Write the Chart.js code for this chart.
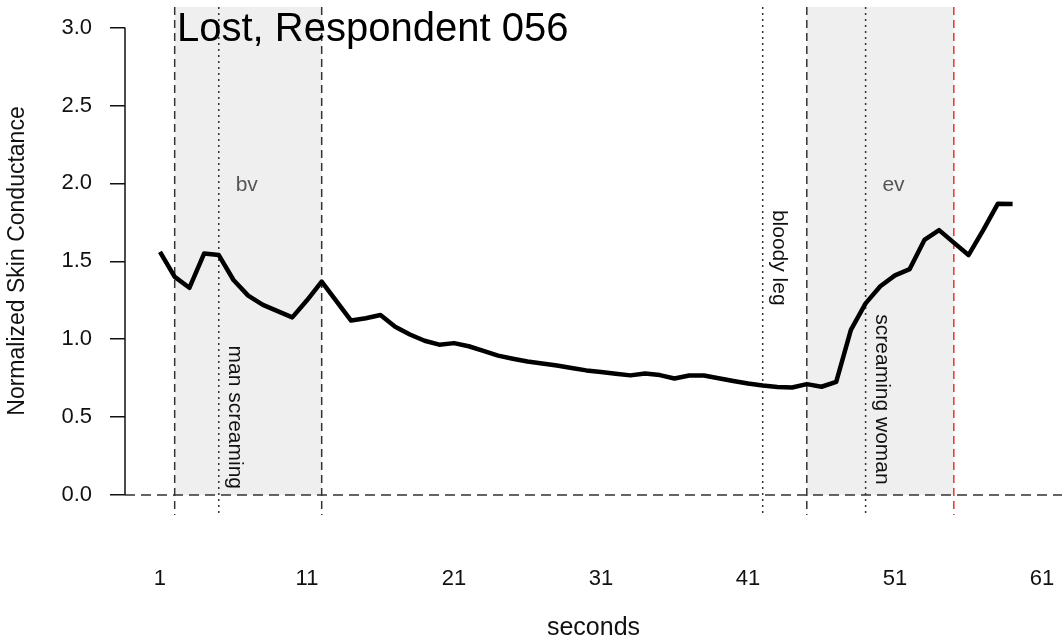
<!DOCTYPE html>
<html>
<head>
<meta charset="utf-8">
<script src="https://cdn.jsdelivr.net/npm/chart.js@4.4.1/dist/chart.umd.min.js"></script>
<style>
  html, body { margin: 0; padding: 0; background: #fff; }
  #scChart { display: block; }
</style>
</head>
<body>
<canvas id="scChart" width="1062" height="642"></canvas>
<script>
// skin conductance, one value per second
const seconds = [1, 2, 3, 4, 5, 6, 7, 8, 9, 10, 11, 12, 13, 14, 15, 16, 17, 18, 19, 20,
  21, 22, 23, 24, 25, 26, 27, 28, 29, 30, 31, 32, 33, 34, 35, 36, 37, 38, 39, 40,
  41, 42, 43, 44, 45, 46, 47, 48, 49, 50, 51, 52, 53, 54, 55, 56, 57, 58, 59];
const conductance = [1.56, 1.40, 1.33, 1.55, 1.54, 1.38, 1.28, 1.22, 1.18, 1.14,
  1.25, 1.37, 1.245, 1.12, 1.135, 1.155, 1.08, 1.03, 0.99, 0.965,
  0.975, 0.955, 0.925, 0.895, 0.875, 0.857, 0.844, 0.831, 0.815, 0.80,
  0.79, 0.778, 0.768, 0.78, 0.77, 0.748, 0.767, 0.767, 0.75, 0.732,
  0.716, 0.703, 0.693, 0.69, 0.712, 0.695, 0.727, 1.06, 1.23, 1.34,
  1.41, 1.45, 1.637, 1.70, 1.62, 1.54, 1.70, 1.87, 1.868];

const xTicks = [1, 11, 21, 31, 41, 51, 61];
const yTicks = [0, 0.5, 1, 1.5, 2, 2.5, 3];

// baseline / emotion windows (seconds)
const bvWindow = [2, 12];
const evWindow = [45, 55];
const windowNames = ['bv', 'ev'];

// scene events (seconds)
const eventTimes = [5, 42, 49];
const eventNames = ['man screaming', 'bloody leg', 'screaming woman'];

const titleText = 'Lost, Respondent 056';

document.addEventListener('DOMContentLoaded', function () {
  const ctx = document.getElementById('scChart').getContext('2d');
  Chart.defaults.font.family = '"Liberation Sans", Arial, sans-serif';
  Chart.defaults.font.size = 22;
  Chart.defaults.color = '#111';

  function vline(c, px, top, bottom, color, dash) {
    c.beginPath();
    c.strokeStyle = color;
    c.lineWidth = 1.5;
    c.setLineDash(dash);
    c.moveTo(px, top);
    c.lineTo(px, bottom);
    c.stroke();
  }

  // no extra room for overhanging tick labels
  function noPadding(scale) {
    scale.paddingTop = 0;
    scale.paddingBottom = 0;
    scale.paddingLeft = 0;
    scale.paddingRight = 0;
  }

  const decorations = {
    id: 'decorations',
    beforeDatasetsDraw(chart) {
      const c = chart.ctx;
      const area = chart.chartArea;
      const x = chart.scales.x;
      const y = chart.scales.y;
      const zeroY = y.getPixelForValue(0);
      c.save();

      // shaded windows
      c.fillStyle = '#efefef';
      [bvWindow, evWindow].forEach(w => {
        const x0 = x.getPixelForValue(w[0]);
        const x1 = x.getPixelForValue(w[1]);
        c.fillRect(x0, area.top, x1 - x0, zeroY - area.top);
      });

      // zero line
      c.beginPath();
      c.strokeStyle = '#333';
      c.lineWidth = 1.5;
      c.setLineDash([10, 6]);
      c.moveTo(area.left, zeroY);
      c.lineTo(area.right, zeroY);
      c.stroke();

      // window edges
      vline(c, x.getPixelForValue(bvWindow[0]), area.top, area.bottom, '#333', [8, 5]);
      vline(c, x.getPixelForValue(bvWindow[1]), area.top, area.bottom, '#333', [8, 5]);
      vline(c, x.getPixelForValue(evWindow[0]), area.top, area.bottom, '#333', [8, 5]);
      vline(c, x.getPixelForValue(evWindow[1]), area.top, area.bottom, '#e8352b', [8, 5]);

      // event lines
      eventTimes.forEach(t => {
        vline(c, x.getPixelForValue(t), area.top, area.bottom, '#333', [2, 4]);
      });
      c.setLineDash([]);

      // y axis line from 0 to 3
      c.beginPath();
      c.strokeStyle = '#111';
      c.lineWidth = 1.5;
      c.moveTo(area.left, y.getPixelForValue(yTicks[0]));
      c.lineTo(area.left, y.getPixelForValue(yTicks[yTicks.length - 1]));
      c.stroke();

      // window labels
      c.fillStyle = '#555';
      c.font = '21px "Liberation Sans", Arial, sans-serif';
      c.textAlign = 'center';
      c.textBaseline = 'middle';
      c.fillText(windowNames[0], x.getPixelForValue(6.9), y.getPixelForValue(1.99));
      c.fillText(windowNames[1], x.getPixelForValue(50.9), y.getPixelForValue(1.99));

      // event labels, rotated to read downwards
      const labelStart = [0.96, 1.83, 1.16];
      c.fillStyle = '#111';
      c.textAlign = 'left';
      c.textBaseline = 'alphabetic';
      eventTimes.forEach((t, i) => {
        c.save();
        c.translate(x.getPixelForValue(t) + 10, y.getPixelForValue(labelStart[i]));
        c.rotate(Math.PI / 2);
        c.fillText(eventNames[i], 0, 0);
        c.restore();
      });
      c.restore();
    },
    afterDraw(chart) {
      const c = chart.ctx;
      c.save();
      c.fillStyle = '#000';
      c.font = '40px "Liberation Sans", Arial, sans-serif';
      c.textAlign = 'left';
      c.textBaseline = 'alphabetic';
      c.fillText(titleText, 177, 41);
      c.restore();
    }
  };

  new Chart(ctx, {
    type: 'line',
    data: {
      datasets: [{
        label: 'Skin conductance',
        data: seconds.map((s, i) => ({ x: s, y: conductance[i] })),
        borderColor: '#000',
        borderWidth: 4.5,
        borderJoinStyle: 'round',
        pointRadius: 0,
        tension: 0,
        fill: false
      }]
    },
    options: {
      responsive: false,
      animation: false,
      devicePixelRatio: 1,
      layout: { padding: { top: 7, left: 0, right: 0, bottom: 0 } },
      plugins: {
        legend: { display: false },
        tooltip: { enabled: false }
      },
      scales: {
        x: {
          type: 'linear',
          min: -1.38,
          max: 62.36,
          afterBuildTicks: scale => { scale.ticks = xTicks.map(v => ({ value: v })); },
          afterFit: scale => { scale.height = 127; noPadding(scale); },
          grid: { display: false, drawTicks: false },
          border: { display: false },
          ticks: { padding: 51, color: '#111', maxRotation: 0, callback: v => String(v) },
          title: { display: true, text: 'seconds', color: '#111', font: { size: 25 }, padding: { top: 0, bottom: -1 } }
        },
        y: {
          type: 'linear',
          min: -0.128,
          max: 3.132,
          afterBuildTicks: scale => { scale.ticks = yTicks.map(v => ({ value: v })); },
          afterFit: scale => { scale.width = 125; noPadding(scale); },
          grid: { display: true, drawOnChartArea: false, drawTicks: true, tickLength: 15, color: '#111', lineWidth: 1.5 },
          border: { display: false },
          ticks: { padding: 18, color: '#111', callback: v => v.toFixed(1) },
          title: { display: true, text: 'Normalized Skin Conductance', color: '#111', font: { size: 23 }, padding: { top: 4, bottom: 0 } }
        }
      }
    },
    plugins: [decorations]
  });
});
</script>
</body>
</html>
